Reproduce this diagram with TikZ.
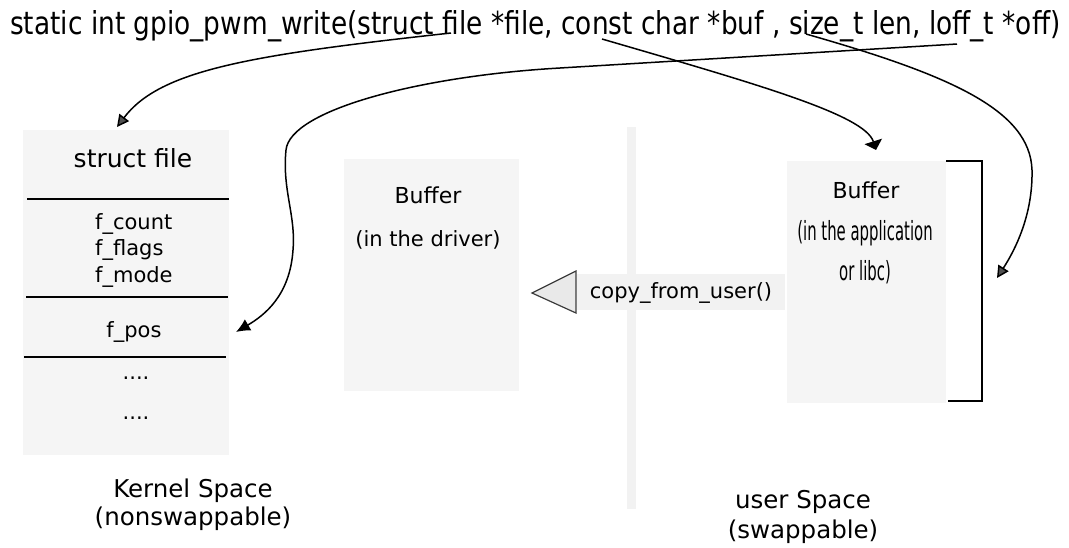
\documentclass[tikz,border=0pt]{standalone}
\usepackage{fontspec}
\setmainfont{DejaVu Sans}
\usetikzlibrary{arrows.meta}
\definecolor{boxfill}{RGB}{245,245,245}
\definecolor{sepfill}{RGB}{242,242,242}
\definecolor{trifill}{RGB}{233,233,233}
\definecolor{tristroke}{RGB}{60,60,60}
\definecolor{headgray}{RGB}{80,80,80}
\tikzset{
  membox/.style={rectangle, fill=boxfill, draw=none, inner sep=0pt},
  rowline/.style={line width=1.3pt, black},
  txt/.style={inner sep=0pt, anchor=base, font=\fontsize{21}{26.5}\selectfont},
  fieldtxt/.style={txt, anchor=base west},
  bigtxt/.style={inner sep=0pt, anchor=base, font=\fontsize{24.5}{29}\selectfont},
  link/.style={line width=1.5pt, black},
  graytip/.style={-{Triangle[length=12pt,width=12pt,fill=headgray]}},
  blacktip/.style={-{Latex[length=14pt,width=13pt]}},
  flattip/.style={-{Triangle[length=9pt,width=18pt]}},
  bracket/.style={line width=2.5pt, black}
}
\begin{document}
\begin{tikzpicture}[x=1pt,y=-1pt]
\useasboundingbox (0,0) rectangle (1069,547);

% function prototype
\node[inner sep=0pt, anchor=base west] (proto) at (10,34)
  {\resizebox{1050pt}{24pt}{static int gpio\_pwm\_write(struct file *file, const char *buf , size\_t len, loff\_t *off)}};
\coordinate (tFile) at (451,33);
\coordinate (tBuf)  at (602,39);
\coordinate (tLen)  at (806,34);
\coordinate (tOff)  at (957,44);

% struct file in kernel space
\node[membox, minimum width=206pt, minimum height=325pt] (sf) at (126,292.5) {};
\node[txt, font=\fontsize{25}{30}\selectfont] (sfname) at (133,167) {struct file};
\draw[rowline] (27,199) -- (229,199);
\node[fieldtxt] (fcount) at (95,229) {f\_count};
\node[fieldtxt] (fflags) at (95,255.5) {f\_flags};
\node[fieldtxt] (fmode)  at (95,282) {f\_mode};
\draw[rowline] (26,297) -- (228,297);
\node[txt] (fpos) at (134,337) {f\_pos};
\draw[rowline] (24,357) -- (226,357);
\node[txt] (dots1) at (136,379) {....};
\node[txt] (dots2) at (136,419) {....};
\node[bigtxt] (kspace) at (193,497) {Kernel Space};
\node[bigtxt] (knote) at (193,525) {(nonswappable)};

% driver buffer
\node[membox, minimum width=175pt, minimum height=232pt] (kb) at (431.5,275) {};
\node[txt, font=\fontsize{22}{26}\selectfont] (kbname) at (428,203) {Buffer};
\node[txt] (kbnote) at (428,246) {(in the driver)};

% kernel / user boundary
\node[rectangle, fill=sepfill, inner sep=0pt, minimum width=9pt, minimum height=382pt] (sep) at (631.5,318) {};

% copy_from_user()
\node[rectangle, fill=sepfill, inner sep=0pt, minimum width=208pt, minimum height=36pt] (cpbox) at (681,292) {};
\node[txt] (cptext) at (681,298) {copy\_from\_user()};
\draw[fill=trifill, draw=tristroke, line width=1.2pt, line join=miter]
  (576,271) -- (532,293) -- (576,313) -- cycle;

% user buffer
\node[membox, minimum width=159pt, minimum height=242pt] (ub) at (866.5,282) {};
\node[txt, font=\fontsize{22}{26}\selectfont] (ubname) at (866,198) {Buffer};
\node[inner sep=0pt, anchor=base] (ubnote1) at (865,240)
  {\scalebox{0.62}[1.1]{\fontsize{24}{28}\selectfont (in the application}};
\node[inner sep=0pt, anchor=base] (ubnote2) at (865,280)
  {\scalebox{0.62}[1.1]{\fontsize{24}{28}\selectfont or libc)}};
\draw[bracket] (ub.north east) -- ++(36,0) coordinate (brTop) -- ++(0,240) coordinate (brBot) -- ++(-34,0);
\node[bigtxt] (uspace) at (803,508) {user Space};
\node[bigtxt] (unote) at (803,538) {(swappable)};

% argument pointers
\coordinate (sfTop) at (117,127);
\coordinate (fposR) at (236,332);
\coordinate (ubTop) at (876,150);
\coordinate (brR)   at (997,278);

\draw[link, graytip] (tFile) .. controls (250,55) and (160,70) .. (sfTop);
\draw[link, blacktip] (tOff) -- (560,68)
  .. controls (420,76) and (290,110) .. (286,150)
  .. controls (282,190) and (296,215) .. (293,250)
  .. controls (290,295) and (265,315) .. (fposR);
\draw[link, flattip] (tBuf) .. controls (760,85) and (865,115) .. (ubTop);
\draw[link, graytip] (tLen) .. controls (950,75) and (1030,110) .. (1032,170)
  .. controls (1033,215) and (1015,250) .. (brR);
\end{tikzpicture}
\end{document}
